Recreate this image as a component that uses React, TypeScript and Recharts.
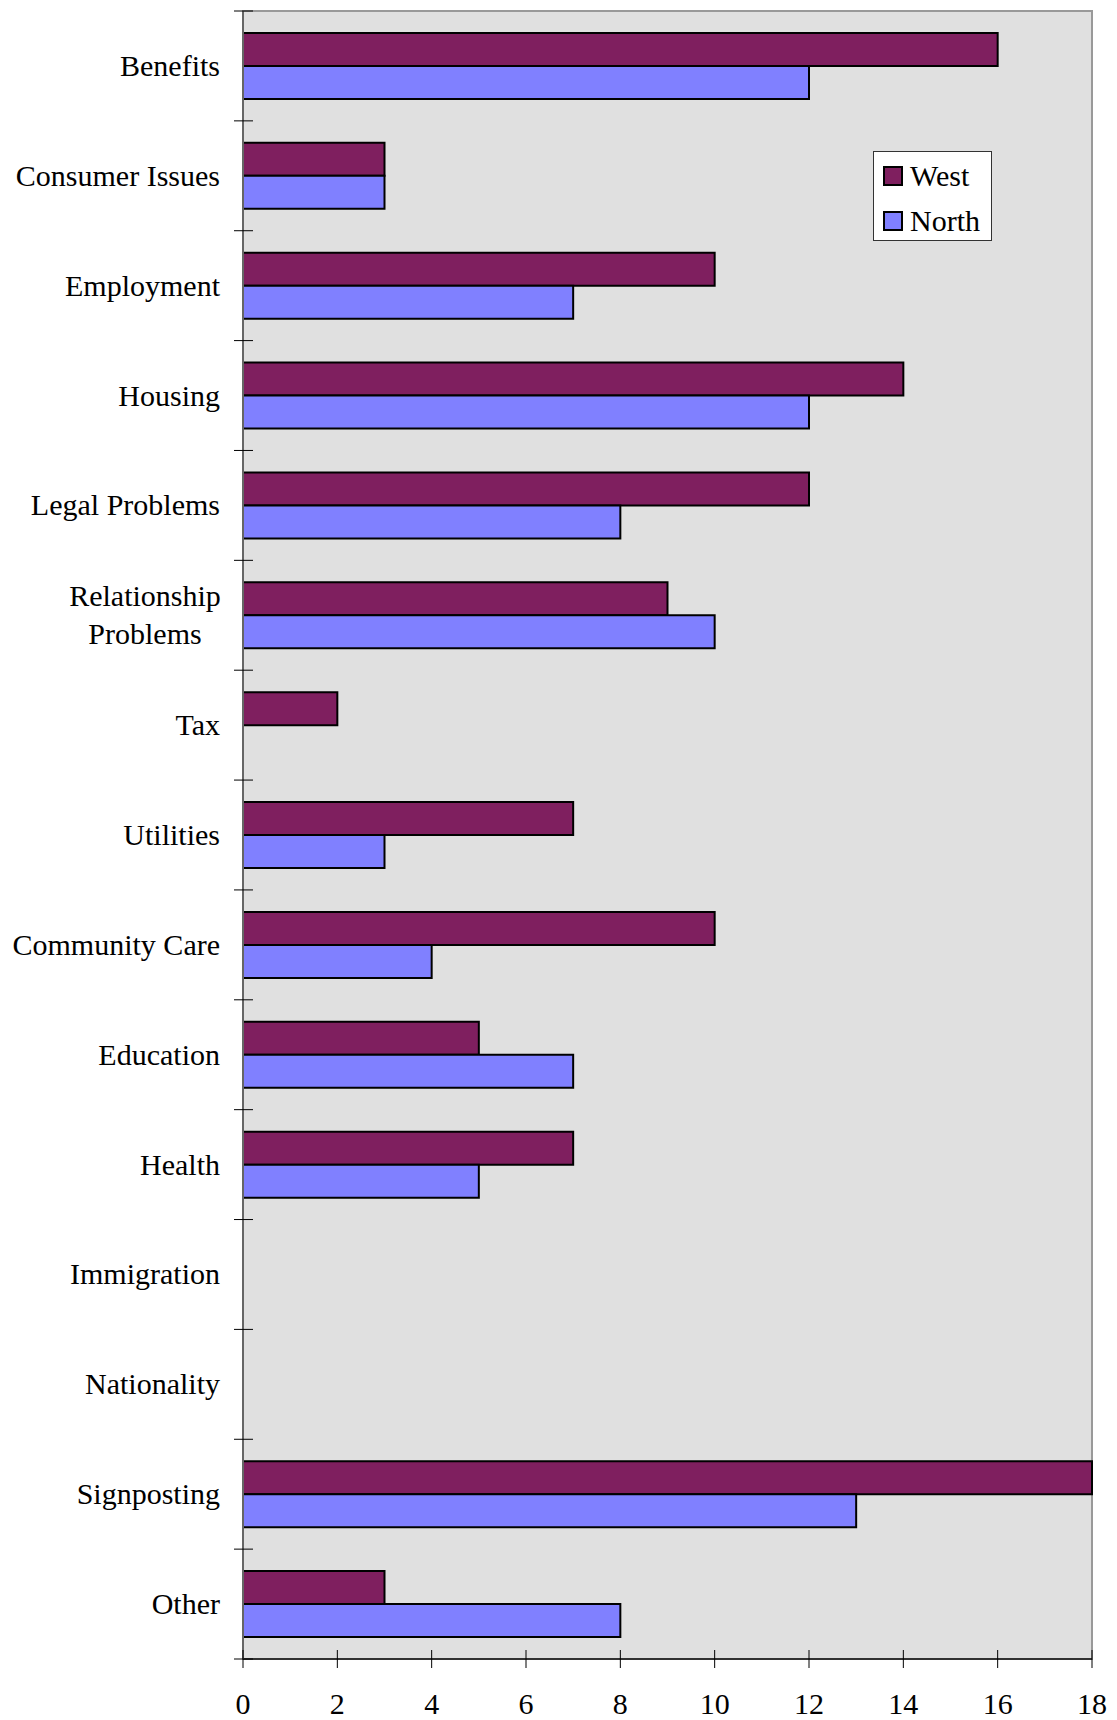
import { BarChart, Bar, XAxis, YAxis, CartesianGrid, ReferenceArea } from "recharts";

const categories = [
  "Benefits",
  "Consumer Issues",
  "Employment",
  "Housing",
  "Legal Problems",
  "Relationship Problems",
  "Tax",
  "Utilities",
  "Community Care",
  "Education",
  "Health",
  "Immigration",
  "Nationality",
  "Signposting",
  "Other",
];

const westValues = [16, 3, 10, 14, 12, 9, 2, 7, 10, 5, 7, 0, 0, 18, 3];
const northValues = [12, 3, 7, 12, 8, 10, 0, 3, 4, 7, 5, 0, 0, 13, 8];

const xTicks = [0, 2, 4, 6, 8, 10, 12, 14, 16, 18];

const SERIES = [
  { key: "west", name: "West", color: "#7F1F5F" },
  { key: "north", name: "North", color: "#8080FF" },
];

const WIDTH = 1117;
const HEIGHT = 1720;
const MARGIN = { top: 11, right: 25, left: 0, bottom: 0 };
const X_AXIS_HEIGHT = 61;
const FONT = "Liberation Serif, Times New Roman, serif";
const FONT_SIZE = 30;

const data = categories.map((name, i) => ({
  name,
  west: westValues[i],
  north: northValues[i],
}));

const bandSize = (HEIGHT - MARGIN.top - MARGIN.bottom - X_AXIS_HEIGHT) / categories.length;

function CategoryTick(props: any) {
  const { x, y, payload, index } = props;
  const label: string = payload.value;
  const half = bandSize / 2;
  const lines = label.length > 16 ? label.split(" ") : [label];
  return (
    <g>
      <line x1={x - 9} x2={x + 10} y1={y - half} y2={y - half} stroke="#000" />
      {index === categories.length - 1 && (
        <line x1={x - 9} x2={x + 10} y1={y + half} y2={y + half} stroke="#000" />
      )}
      {lines.length === 1 ? (
        <text x={x - 23} y={y + 10} textAnchor="end" fontFamily={FONT} fontSize={FONT_SIZE} fill="#000">
          {label}
        </text>
      ) : (
        <text textAnchor="middle" fontFamily={FONT} fontSize={FONT_SIZE} fill="#000">
          {lines.map((ln, i) => (
            <tspan key={ln} x={x - 98} y={y + 10 + (i - (lines.length - 1) / 2) * 38}>
              {ln}
            </tspan>
          ))}
        </text>
      )}
    </g>
  );
}

function ValueTick(props: any) {
  const { x, y, payload } = props;
  return (
    <g>
      <line x1={x} x2={x} y1={y - 9} y2={y + 9} stroke="#000" />
      <text x={x} y={y + 55} textAnchor="middle" fontFamily={FONT} fontSize={FONT_SIZE} fill="#000">
        {payload.value}
      </text>
    </g>
  );
}

export default function App() {
  return (
    <div style={{ position: "absolute", left: 0, top: 0, width: WIDTH, height: HEIGHT, background: "#fff" }}>
      <BarChart
        width={WIDTH}
        height={HEIGHT}
        data={data}
        layout="vertical"
        margin={MARGIN}
        barCategoryGap="20%"
        barGap={0}
      >
        <CartesianGrid horizontal={false} vertical={false} fill="#E0E0E0" />
        <ReferenceArea x1={0} x2={18} fill="none" stroke="#999" strokeWidth={2} ifOverflow="visible" />
        <XAxis
          type="number"
          domain={[0, 18]}
          ticks={xTicks}
          interval={0}
          height={X_AXIS_HEIGHT}
          tickSize={0}
          tickMargin={0}
          tickLine={false}
          axisLine={{ stroke: "#333", strokeWidth: 2 }}
          tick={<ValueTick />}
        />
        <YAxis
          type="category"
          dataKey="name"
          width={243}
          interval={0}
          tickSize={0}
          tickMargin={0}
          tickLine={false}
          axisLine={{ stroke: "#666", strokeWidth: 2 }}
          tick={<CategoryTick />}
        />
        {SERIES.map((s) => (
          <Bar
            key={s.key}
            dataKey={s.key}
            name={s.name}
            fill={s.color}
            stroke="#000"
            strokeWidth={2}
            isAnimationActive={false}
          />
        ))}
      </BarChart>

      {/* legend box inside the plot area, top right */}
      <div
        style={{
          position: "absolute",
          left: 873,
          top: 151,
          width: 117,
          height: 88,
          background: "#fff",
          border: "1px solid #333",
          fontFamily: FONT,
          fontSize: FONT_SIZE,
          color: "#000",
        }}
      >
        {SERIES.map((s, i) => (
          <div
            key={s.key}
            style={{
              position: "absolute",
              left: 9,
              top: 9 + i * 45,
              height: 30,
              display: "flex",
              alignItems: "center",
            }}
          >
            <span
              style={{
                display: "inline-block",
                width: 16,
                height: 16,
                background: s.color,
                border: "2px solid #000",
                marginRight: 7,
              }}
            />
            <span style={{ lineHeight: "30px" }}>{s.name}</span>
          </div>
        ))}
      </div>
    </div>
  );
}
